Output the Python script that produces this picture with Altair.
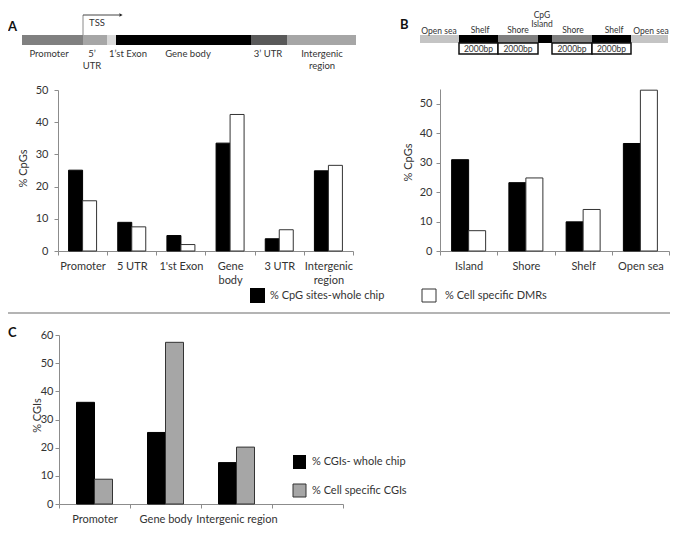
import altair as alt
import pandas as pd

# ---------------- data ----------------
a_categories = ["Promoter", "5 UTR", "1'st Exon", "Gene body", "3 UTR", "Intergenic region"]
a_whole_chip = [25.1, 8.9, 4.8, 33.5, 3.8, 24.9]
a_cell_specific = [15.6, 7.5, 2.0, 42.4, 6.6, 26.6]

b_categories = ["Island", "Shore", "Shelf", "Open sea"]
b_whole_chip = [31.0, 23.2, 9.9, 36.5]
b_cell_specific = [6.9, 24.8, 14.1, 54.6]

c_categories = ["Promoter", "Gene body", "Intergenic region"]
c_whole_chip = [36.1, 25.4, 14.7]
c_cell_specific = [8.8, 57.4, 20.2]

ab_series = ["% CpG sites-whole chip", "% Cell specific DMRs"]
c_series = ["% CGIs- whole chip", "% Cell specific CGIs"]

a_ticks = [0, 10, 20, 30, 40, 50]
b_ticks = [0, 10, 20, 30, 40, 50]
c_ticks = [0, 10, 20, 30, 40, 50, 60]

gene_parts = ["Promoter", "5’ UTR", "1’st Exon", "Gene body", "3’ UTR", "Intergenic region"]
cpg_parts = ["Open sea", "Shelf", "Shore", "CpG Island", "Shore", "Shelf", "Open sea"]
flank_label = "2000bp"
tss_label = "TSS"
panel_letters = ["A", "B", "C"]
y_title_ab = "% CpGs"
y_title_c = "% CGIs"

# ---------------- layout / style ----------------
OFF = 8
W, H = 662, 519
FONT = "Lato"
TXT = "#333333"
AXC = "#8c8c8c"
FRAME = "#b4b4b4"


def P(v):
    return v - OFF


def px_x(f="x"):
    return alt.X(f"{f}:Q", scale=None, axis=None)


def px_y(f="y"):
    return alt.Y(f"{f}:Q", scale=None, axis=None)


def rect_layer(rows, stroke=None, sw=0.0):
    df = pd.DataFrame([{"x": P(a), "x2": P(b), "y": P(c), "y2": P(d), "fill": f} for a, b, c, d, f in rows])
    mk = dict(strokeWidth=sw)
    if stroke:
        mk["stroke"] = stroke
    return alt.Chart(df).mark_rect(**mk).encode(
        x=px_x(), x2="x2:Q", y=px_y(), y2="y2:Q", fill=alt.Fill("fill:N", scale=None))


def text_layer(rows, size=9.0, align="center", weight="normal", color=TXT):
    df = pd.DataFrame([{"x": P(x), "y": P(y), "text": t} for t, x, y in rows])
    return alt.Chart(df).mark_text(font=FONT, fontSize=size, align=align, baseline="middle",
                                   fontWeight=weight, color=color).encode(
        x=px_x(), y=px_y(), text="text:N")


def rule_layer(rows, color, sw):
    df = pd.DataFrame([{"x": P(a), "y": P(b), "x2": P(c), "y2": P(d)} for a, b, c, d in rows])
    return alt.Chart(df).mark_rule(color=color, strokeWidth=sw).encode(
        x=px_x(), y=px_y(), x2="x2:Q", y2="y2:Q")


def y_axis(ticks, offset, title, tx, ty, pad):
    return alt.Axis(orient="left", offset=offset, values=ticks, grid=False, domainColor=AXC,
                    tickColor=AXC, tickSize=4, labelPadding=pad, labelFont=FONT, labelFontSize=11,
                    labelColor=TXT, title=title, titleFont=FONT, titleFontSize=11,
                    titleFontWeight="normal", titleColor=TXT, titleX=tx, titleY=ty,
                    titleAngle=270, titleBaseline="middle", titleAlign="center")


def x_axis(offset, label_expr=None):
    kw = dict(orient="bottom", offset=offset, grid=False, domainColor=AXC, tickColor=AXC,
              tickSize=4, tickBand="extent", labelPadding=5, labelFont=FONT, labelFontSize=11,
              labelColor=TXT, labelAngle=0, labelOverlap=False, labelLineHeight=14,
              labelLimit=200, title=None)
    if label_expr:
        kw["labelExpr"] = label_expr
    return alt.Axis(**kw)


def bars(cats, vals, dom, xr, yd, yr, w, xo, fill, stroke, xaxis=None, yaxis=None):
    df = pd.DataFrame({"cat": cats, "val": vals})
    return alt.Chart(df).mark_bar(width=w, xOffset=xo, fill=fill, stroke=stroke, strokeWidth=1).encode(
        x=alt.X("cat:N", sort=dom,
                scale=alt.Scale(type="band", domain=dom, range=xr, paddingInner=0, paddingOuter=0),
                axis=xaxis),
        y=alt.Y("val:Q", scale=alt.Scale(domain=yd, range=yr, nice=False, zero=True), axis=yaxis),
    )


layers = []

# divider between upper and lower panels
layers.append(rule_layer([(OFF, 313, OFF + W, 313)], FRAME, 2))

# ---- panel A gene diagram ----
gene_edges = [22, 83, 107, 116, 251, 287, 356]
gene_fills = ["#808080", "#a6a6a6", "#d9d9d9", "#000000", "#595959", "#a6a6a6"]
layers.append(rect_layer([(gene_edges[i], gene_edges[i + 1], 35, 45, gene_fills[i])
                          for i in range(len(gene_parts))]))
layers.append(rule_layer([(83, 15, 83, 35)], "#8a8a8a", 1))
layers.append(rule_layer([(83, 15, 119, 15)], "#444444", 1))
arrow = pd.DataFrame({"x": [P(121)], "y": [P(15)]})
layers.append(alt.Chart(arrow).mark_point(shape="triangle-right", filled=True, size=14,
                                          color="#222222", opacity=1).encode(x=px_x(), y=px_y()))
gene_label_x = [49, 92, 128, 188, 268, 322]
gene_wrap = [False, True, False, False, False, True]
gene_rows = [(tss_label, 97, 23)]
for name, gx, wrap in zip(gene_parts, gene_label_x, gene_wrap):
    if wrap:
        first, second = name.split(" ", 1)
        gene_rows += [(first, gx, 54), (second, gx, 66)]
    else:
        gene_rows.append((name, gx, 54))
layers.append(text_layer(gene_rows, size=9.5))

# ---- panel B CpG island diagram ----
cpg_edges = [420, 459, 498, 538, 552, 592, 631, 668]
cpg_fills = ["#c4c4c4", "#000000", "#7f7f7f", "#000000", "#7f7f7f", "#000000", "#c4c4c4"]
layers.append(rect_layer([(cpg_edges[i], cpg_edges[i + 1], 35, 43, cpg_fills[i])
                          for i in range(len(cpg_parts))]))
flank_boxes = [(459, 498), (498, 538), (552, 592), (592, 631)]
layers.append(rect_layer([(a, b, 43, 54, "#ffffff") for a, b in flank_boxes], stroke="#111111", sw=1.5))
layers.append(text_layer([(flank_label, (a + b) / 2, 48.5) for a, b in flank_boxes], size=8.5))
cpg_label_x = [439, 480, 518, 542, 573, 614, 651]
cpg_rows = []
for name, cx in zip(cpg_parts, cpg_label_x):
    if " " in name and name != "Open sea":
        first, second = name.split(" ", 1)
        cpg_rows += [(first, cx, 15), (second, cx, 24)]
    else:
        cpg_rows.append((name, cx, 31 if name == "Open sea" else 30))
layers.append(text_layer(cpg_rows, size=8.5))

# ---- panel A bars ----
a_xr = [P(58), P(353)]
a_yr = [P(251), P(90)]
layers.append(bars(a_categories, a_whole_chip, a_categories, a_xr, [0, 50], a_yr, 14, -7,
                   "#000000", "#000000",
                   xaxis=x_axis(-(H - P(251)),
                                "datum.label == 'Gene body' ? ['Gene', 'body'] : "
                                "datum.label == 'Intergenic region' ? ['Intergenic', 'region'] : datum.label"),
                   yaxis=y_axis(a_ticks, -P(58), y_title_ab, 23 - 58, P(168), 6)))
layers.append(bars(a_categories, a_cell_specific, a_categories, a_xr, [0, 50], a_yr, 14, 7,
                   "#ffffff", "#333333"))

# ---- panel B bars ----
b_xr = [P(440), P(669)]
b_yr = [P(251), P(89)]
layers.append(bars(b_categories, b_whole_chip, b_categories, b_xr, [0, 55], b_yr, 17, -8.5,
                   "#000000", "#000000",
                   xaxis=x_axis(-(H - P(251))),
                   yaxis=y_axis(b_ticks, -P(440), y_title_ab, 408 - 440, P(162), 4)))
layers.append(bars(b_categories, b_cell_specific, b_categories, b_xr, [0, 55], b_yr, 17, 8.5,
                   "#ffffff", "#333333"))

# ---- panel C bars ----
c_dom = c_categories + [" "]
c_xr = [P(59), P(343)]
c_yr = [P(504), P(335)]
layers.append(bars(c_categories, c_whole_chip, c_dom, c_xr, [0, 60], c_yr, 18, -9,
                   "#000000", "#000000",
                   xaxis=x_axis(-(H - P(504))),
                   yaxis=y_axis(c_ticks, -P(59), y_title_c, 37 - 59, P(415), 2)))
layers.append(bars(c_categories, c_cell_specific, c_dom, c_xr, [0, 60], c_yr, 18, 9,
                   "#a6a6a6", "#333333"))

# ---- legends ----
layers.append(rect_layer([(250, 265, 288, 303, "#000000")]))
layers.append(rect_layer([(422, 436, 289, 302, "#ffffff")], stroke="#333333", sw=1))
layers.append(text_layer([(ab_series[0], 270, 296), (ab_series[1], 445, 296)], size=11, align="left"))
layers.append(rect_layer([(293, 306, 455, 469, "#000000")]))
layers.append(rect_layer([(293, 306, 484, 497, "#a6a6a6")], stroke="#333333", sw=1))
layers.append(text_layer([(c_series[0], 312, 462), (c_series[1], 312, 491)], size=11, align="left"))

# ---- panel letters ----
layers.append(text_layer([(panel_letters[0], 8, 27), (panel_letters[1], 400, 25),
                          (panel_letters[2], 8, 333)], size=13, align="left", weight="bold",
                         color="#111111"))

chart = (
    alt.layer(*layers)
    .resolve_scale(x="independent", y="independent")
    .resolve_axis(x="independent", y="independent")
    .properties(width=W, height=H, padding=0, autosize=alt.AutoSizeParams(type="none"))
    .configure_view(stroke=None)
)

chart.save("out.html", embed_options={"renderer": "svg", "actions": False})
